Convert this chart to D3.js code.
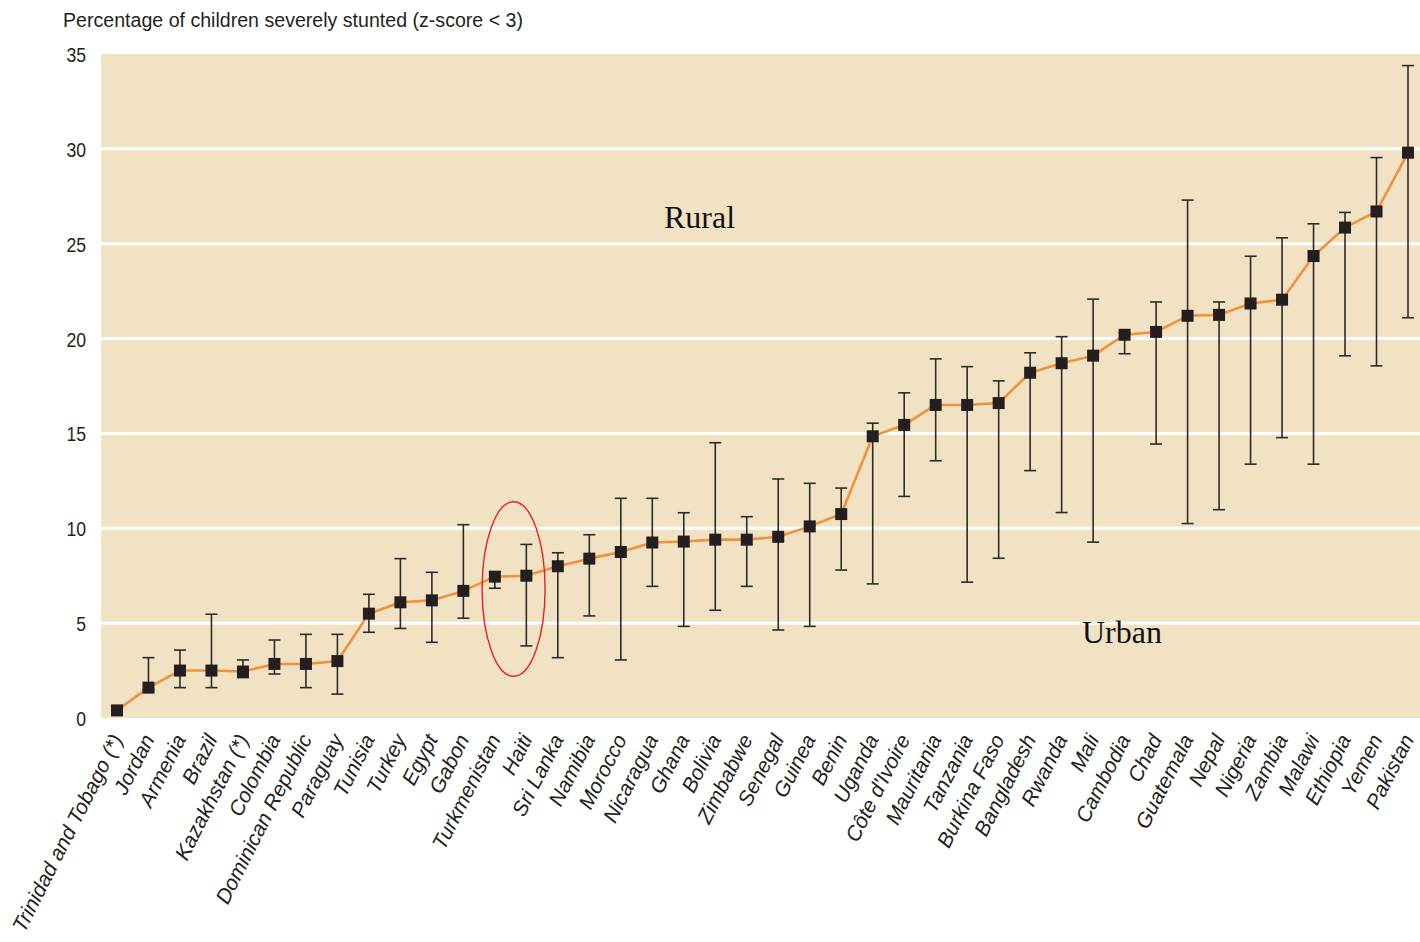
<!DOCTYPE html>
<html>
<head>
<meta charset="utf-8">
<script src="https://cdn.jsdelivr.net/npm/d3@7"></script>
<style>
  html, body { margin: 0; padding: 0; background: #fff; }
  svg { display: block; }
</style>
</head>
<body>
<svg id="chart" width="1420" height="942"></svg>
<script>
// Countries, ordered by national share of severely stunted children
const countries = [
  "Trinidad and Tobago (*)", "Jordan", "Armenia", "Brazil", "Kazakhstan (*)", "Colombia",
  "Dominican Republic", "Paraguay", "Tunisia", "Turkey", "Egypt", "Gabon", "Turkmenistan",
  "Haiti", "Sri Lanka", "Namibia", "Morocco", "Nicaragua", "Ghana", "Bolivia", "Zimbabwe",
  "Senegal", "Guinea", "Benin", "Uganda", "Côte d'Ivoire", "Mauritania", "Tanzania",
  "Burkina Faso", "Bangladesh", "Rwanda", "Mali", "Cambodia", "Chad", "Guatemala", "Nepal",
  "Nigeria", "Zambia", "Malawi", "Ethiopia", "Yemen", "Pakistan"
];

// National percentage (square markers joined by the line)
const national = [
  0.4, 1.6, 2.5, 2.5, 2.45, 2.85, 2.85, 3.0, 5.5, 6.1, 6.2, 6.7, 7.45,
  7.5, 8.0, 8.4, 8.75, 9.25, 9.3, 9.4, 9.4,
  9.55, 10.1, 10.75, 14.85, 15.45, 16.5, 16.5,
  16.6, 18.2, 18.7, 19.1, 20.2, 20.35, 21.2, 21.25,
  21.85, 22.05, 24.35, 25.85, 26.7, 29.8
];

// Urban value (lower end of each bar)
const urban = [
  null, 1.5, 1.6, 1.6, 2.13, 2.32, 1.6, 1.26, 4.52, 4.72, 3.99, 5.26, 6.84,
  3.8, 3.18, 5.38, 3.06, 6.94, 4.83, 5.68, 6.94,
  4.64, 4.83, 7.8, 7.07, 11.68, 13.56, 7.16,
  8.42, 13.04, 10.83, 9.27, 19.2, 14.44, 10.25, 10.98,
  13.38, 14.78, 13.38, 19.09, 18.56, 21.1
];

// Rural value (upper end of each bar)
const rural = [
  null, 3.18, 3.58, 5.47, 3.06, 4.11, 4.41, 4.41, 6.52, 8.4, 7.68, 10.19, 7.7,
  9.15, 8.71, 9.66, 11.58, 11.58, 10.82, 14.51, 10.61,
  12.6, 12.37, 12.12, 15.54, 17.14, 18.93, 18.52,
  17.77, 19.25, 20.1, 22.08, 20.3, 21.93, 27.3, 21.93,
  24.34, 25.31, 26.05, 26.65, 29.54, 34.39
];

const yTicks = [0, 5, 10, 15, 20, 25, 30, 35];
const gridValues = [5, 10, 15, 20, 25, 30];

// Circled country pair and the value span the ring covers
const highlighted = ["Turkmenistan", "Haiti"];
const highlightSpan = [2.2, 11.4];

const titleText = "Percentage of children severely stunted (z-score < 3)";
const ruralLabel = "Rural";
const urbanLabel = "Urban";

const sans = "'Liberation Sans', Arial, sans-serif";
const serif = "'Liberation Serif', 'Times New Roman', serif";

const svg = d3.select("#chart");

const plot = { left: 101, right: 1420, top: 54, bottom: 718 };

const x = d3.scalePoint()
  .domain(countries)
  .range([117, 1408]);

const y = d3.scaleLinear()
  .domain([0, 35])
  .range([plot.bottom, plot.top]);

// Panel background
svg.append("rect")
  .attr("x", plot.left)
  .attr("y", y(35))
  .attr("width", plot.right - plot.left)
  .attr("height", y(0) - y(35))
  .attr("fill", "#f1e2c4");

// White horizontal gridlines
svg.append("g")
  .selectAll("line")
  .data(gridValues)
  .join("line")
  .attr("x1", plot.left)
  .attr("x2", plot.right)
  .attr("y1", d => y(d))
  .attr("y2", d => y(d))
  .attr("stroke", "#ffffff")
  .attr("stroke-width", 3);

// Y axis labels (condensed by a horizontal squeeze)
const yAxis = d3.axisLeft(y).tickValues(yTicks).tickSize(0).tickPadding(0);
const yAxisG = svg.append("g")
  .attr("transform", `translate(86,0)`)
  .call(yAxis);
yAxisG.select(".domain").remove();
yAxisG.selectAll("text")
  .attr("font-family", sans)
  .attr("font-size", 21)
  .attr("fill", "#231f20")
  .attr("dy", "0.36em")
  .attr("transform", "scale(0.84,1)");

// Title
svg.append("text")
  .attr("x", 63)
  .attr("y", 27)
  .attr("font-family", sans)
  .attr("font-size", 20.5)
  .attr("fill", "#231f20")
  .attr("textLength", 460)
  .attr("lengthAdjust", "spacingAndGlyphs")
  .text(titleText);

// Region labels
svg.append("text")
  .attr("x", 664)
  .attr("y", 228)
  .attr("font-family", serif)
  .attr("font-size", 32)
  .attr("fill", "#111")
  .text(ruralLabel);

svg.append("text")
  .attr("x", 1082)
  .attr("y", 643)
  .attr("font-family", serif)
  .attr("font-size", 32)
  .attr("fill", "#111")
  .text(urbanLabel);

const data = countries.map((c, i) => ({ c, v: national[i], lo: urban[i], hi: rural[i] }));

// National line
svg.append("path")
  .datum(data)
  .attr("fill", "none")
  .attr("stroke", "#f0923a")
  .attr("stroke-width", 2.6)
  .attr("stroke-linejoin", "round")
  .attr("d", d3.line().x(d => x(d.c)).y(d => y(d.v)));

// Urban–rural range bars
const bars = svg.append("g")
  .attr("stroke", "#2b2b2b")
  .attr("stroke-width", 1.6)
  .selectAll("g")
  .data(data.filter(d => d.lo != null && d.hi != null))
  .join("g");

bars.append("line")
  .attr("x1", d => x(d.c)).attr("x2", d => x(d.c))
  .attr("y1", d => y(d.hi)).attr("y2", d => y(d.lo));
bars.append("line")
  .attr("x1", d => x(d.c) - 6).attr("x2", d => x(d.c) + 6)
  .attr("y1", d => y(d.hi)).attr("y2", d => y(d.hi));
bars.append("line")
  .attr("x1", d => x(d.c) - 6).attr("x2", d => x(d.c) + 6)
  .attr("y1", d => y(d.lo)).attr("y2", d => y(d.lo));

// Square markers
svg.append("g")
  .selectAll("rect")
  .data(data)
  .join("rect")
  .attr("x", d => x(d.c) - 6)
  .attr("y", d => y(d.v) - 6)
  .attr("width", 12)
  .attr("height", 12)
  .attr("fill", "#231f20");

// Red ring around the highlighted pair
const cx = (x(highlighted[0]) + x(highlighted[1])) / 2 + 3;
svg.append("ellipse")
  .attr("cx", cx)
  .attr("cy", (y(highlightSpan[0]) + y(highlightSpan[1])) / 2)
  .attr("rx", x.step() * 1.0)
  .attr("ry", (y(highlightSpan[0]) - y(highlightSpan[1])) / 2)
  .attr("fill", "none")
  .attr("stroke", "#ee1c24")
  .attr("stroke-width", 1.4);

// Rotated italic country labels
const xAxis = d3.axisBottom(x).tickSize(0).tickPadding(0);
const xAxisG = svg.append("g")
  .attr("transform", `translate(0,${plot.bottom})`)
  .call(xAxis);
xAxisG.select(".domain").remove();
xAxisG.selectAll("text")
  .attr("font-family", sans)
  .attr("font-style", "italic")
  .attr("font-size", 21)
  .attr("fill", "#231f20")
  .attr("text-anchor", "end")
  .attr("dy", null)
  .attr("y", null)
  .attr("transform", "translate(6,21) rotate(-63)");
</script>
</body>
</html>
